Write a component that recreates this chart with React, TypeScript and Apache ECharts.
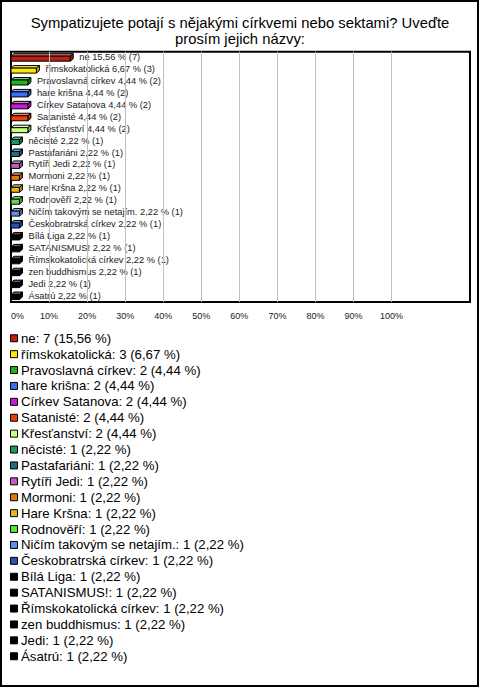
import React, { useEffect, useRef } from "react";
import * as echarts from "echarts";

const TITLE = "Sympatizujete potají s nějakými církvemi nebo sektami? Uveďte\nprosím jejich názvy:";

const categories = [
  "ne",
  "římskokatolická",
  "Pravoslavná církev",
  "hare krišna",
  "Církev Satanova",
  "Satanisté",
  "Křesťanství",
  "něcisté",
  "Pastafariáni",
  "Rytíři Jedi",
  "Mormoni",
  "Hare Kršna",
  "Rodnověří",
  "Ničím takovým se netajím.",
  "Českobratrská církev",
  "Bílá Liga",
  "SATANISMUS!",
  "Římskokatolická církev",
  "zen buddhismus",
  "Jedi",
  "Ásatrú",
];

const counts = [7, 3, 2, 2, 2, 2, 2, 1, 1, 1, 1, 1, 1, 1, 1, 1, 1, 1, 1, 1, 1];
const percents = [15.56, 6.67, 4.44, 4.44, 4.44, 4.44, 4.44, 2.22, 2.22, 2.22, 2.22, 2.22, 2.22, 2.22, 2.22, 2.22, 2.22, 2.22, 2.22, 2.22, 2.22];

const colors = [
  "#c0200f", "#ffe600", "#20b020", "#3a6ef0", "#c31ed2", "#e8420e", "#c4ff80",
  "#1e9460", "#1e6e82", "#c05ec4", "#e0780e", "#e8b41c", "#58e040", "#6090e0",
  "#2850b8", "#000000", "#000000", "#000000", "#000000", "#000000", "#000000",
];

const xTicks = [10, 20, 30, 40, 50, 60, 70, 80, 90, 100];

const FONT = "Liberation Sans, Arial, sans-serif";

function fmt(v: number): string {
  return v.toFixed(2).replace(".", ",");
}

function shade(hex: string, f: number): string {
  const n = parseInt(hex.slice(1), 16);
  let r = (n >> 16) & 255, g = (n >> 8) & 255, b = n & 255;
  if (f > 0) {
    r = Math.round(r + (255 - r) * f);
    g = Math.round(g + (255 - g) * f);
    b = Math.round(b + (255 - b) * f);
  } else {
    r = Math.round(r * (1 + f));
    g = Math.round(g * (1 + f));
    b = Math.round(b * (1 + f));
  }
  return `rgb(${r},${g},${b})`;
}

export default function App() {
  const ref = useRef<HTMLDivElement>(null);
  useEffect(() => {
    document.body.style.margin = "0";
    if (!ref.current) return;
    const chart = echarts.init(ref.current, undefined, { renderer: "svg" });

    const barSeries = categories.map((name, i) => ({
      type: "custom",
      name,
      z: 3,
      itemStyle: { color: colors[i] },
      data: [[percents[i], i]],
      renderItem: (params: any, api: any) => {
        const v = api.value(0);
        const idx = api.value(1);
        const p0 = api.coord([0, idx]);
        const p1 = api.coord([v, idx]);
        const x0 = p0[0];
        const x1 = p1[0];
        const c = p0[1];
        const dx = 3, dy = 2.5;
        const top = c - 1.5, bot = c + 3.5;
        const col = colors[i];
        const stroke = { stroke: "#000", lineWidth: 1 };
        return {
          type: "group",
          children: [
            {
              type: "polygon",
              shape: { points: [[x0, top], [x0 + dx, top - dy], [x1 + dx, top - dy], [x1, top]] },
              style: { fill: shade(col, 0.35), ...stroke },
            },
            {
              type: "polygon",
              shape: { points: [[x1, top], [x1 + dx, top - dy], [x1 + dx, bot - dy], [x1, bot]] },
              style: { fill: shade(col, -0.25), ...stroke },
            },
            {
              type: "rect",
              shape: { x: x0, y: top, width: x1 - x0, height: bot - top },
              style: { fill: col, ...stroke },
            },
            {
              type: "text",
              style: {
                text: `${categories[i]} ${fmt(percents[i])} % (${counts[i]})`,
                x: x1 + dx + 6,
                y: c - 0.5,
                fontSize: 9.3,
                fontFamily: FONT,
                fill: "#222",
                verticalAlign: "middle",
                align: "left",
              },
            },
          ],
        };
      },
    }));

    const option: any = {
      animation: false,
      backgroundColor: "#fff",
      title: {
        text: TITLE,
        left: "center",
        top: 10,
        textStyle: {
          fontSize: 14.8,
          fontWeight: "normal",
          color: "#000",
          fontFamily: FONT,
          lineHeight: 16,
          align: "center",
        },
      },
      grid: {
        left: 11,
        right: 10,
        top: 51.7,
        bottom: 386,
        show: true,
        borderColor: "#000",
        borderWidth: 2,
        backgroundColor: "transparent",
      },
      xAxis: {
        type: "value",
        min: 0,
        max: 120.6,
        interval: 10,
        axisLine: { show: false },
        axisTick: { show: false },
        splitLine: { show: false },
        axisLabel: {
          margin: 9,
          fontSize: 9,
          color: "#222",
          fontFamily: FONT,
          alignMinLabel: "left",
          showMaxLabel: false,
          formatter: (v: number) => (v <= 100 ? `${v}%` : ""),
        },
      },
      yAxis: {
        type: "category",
        inverse: true,
        data: categories,
        axisLine: { show: false },
        axisTick: { show: false },
        axisLabel: { show: false },
        splitLine: { show: false },
      },
      legend: {
        orient: "vertical",
        left: 5,
        top: 326,
        itemWidth: 7,
        itemHeight: 7,
        itemGap: 1.4,
        icon: "rect",
        selectedMode: false,
        textStyle: {
          fontSize: 13.2,
          lineHeight: 14.5,
          color: "#000",
          fontFamily: FONT,
          padding: [0, 0, 0, -1.5],
        },
        data: categories.map((name, i) => ({
          name,
          icon: "rect",
          itemStyle: { color: colors[i], borderColor: "#000", borderWidth: 1 },
        })),
        formatter: (name: string) => {
          const i = categories.indexOf(name);
          return `${name}: ${counts[i]} (${fmt(percents[i])} %)`;
        },
      },
      graphic: [
        {
          type: "rect",
          shape: { x: 1, y: 1, width: 477, height: 685 },
          style: { fill: "none", stroke: "#000", lineWidth: 2 },
          silent: true,
          z: 100,
        },
      ],
      series: [
        {
          type: "line",
          name: "__grid",
          data: [],
          z: 1,
          silent: true,
          markLine: {
            silent: true,
            symbol: ["none", "none"],
            label: { show: false },
            lineStyle: { color: "#c0c0c0", type: "solid", width: 1 },
            data: xTicks.map((v) => ({ xAxis: v })),
          },
        },
        ...barSeries,
      ],
    };
    chart.setOption(option);
    return () => chart.dispose();
  }, []);
  return <div ref={ref} style={{ width: 480, height: 688 }} />;
}
